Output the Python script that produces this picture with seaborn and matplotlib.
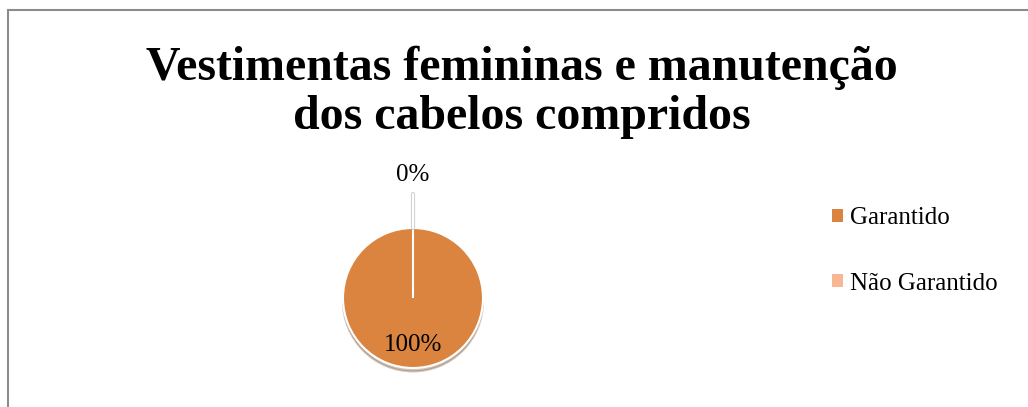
import numpy as np
import matplotlib
matplotlib.use("Agg")
from matplotlib import pyplot as plt
from matplotlib import patheffects as pe
from matplotlib.patches import Rectangle
import seaborn as sns

sns.set_theme(style="white")
plt.rcParams['font.family'] = ['Liberation Serif', 'DejaVu Serif']
plt.rcParams['text.color'] = 'black'

title = "Vestimentas femininas e manutenção\ndos cabelos compridos"
categories = ["Garantido", "Não Garantido"]
values = [100, 0]
colors = ["#DA843F", "#F8B792"]

W, H = 1028, 407
fig = plt.figure(figsize=(W / 100, H / 100), dpi=100)

# chart border (only top and left are visible in the crop)
fig.patches.append(Rectangle((8 / W, -0.2), 1.2, (H - 10) / H + 0.2,
                             transform=fig.transFigure, fill=False,
                             edgecolor="#8c8c8c", linewidth=1.5))

fig.text(522 / W, 1 - 46 / H, title, ha="center", va="top",
         fontsize=34.5, fontweight="bold", linespacing=1.15)

# pie axes: radius 1 -> 70 px
R = 70
half = 150
ax = fig.add_axes([(413 - half) / W, (H - 298 - half) / H, 2 * half / W, 2 * half / H])

wedges, texts, autotexts = ax.pie(
    values, colors=colors, startangle=90, counterclock=False,
    autopct="%1.0f%%", pctdistance=0.67, radius=1,
    wedgeprops=dict(edgecolor="white", linewidth=1.5),
    textprops=dict(fontsize=18, color="black"),
    shadow=dict(ox=0.0, oy=-0.035, shade=0.5, alpha=0.3),
)
ax.set_xlim(-half / R, half / R)
ax.set_ylim(-half / R, half / R)
ax.set_aspect("equal")
ax.axis("off")

# move labels of empty slices outside with a leader line
for w, t in zip(wedges, autotexts):
    if w.theta2 - w.theta1 < 1e-6:
        ang = np.deg2rad(w.theta1)
        t.set_position((1.76 * np.cos(ang), 1.76 * np.sin(ang)))
        ax.plot([np.cos(ang), 1.48 * np.cos(ang)], [np.sin(ang), 1.48 * np.sin(ang)],
                color="white", linewidth=1.5,
                path_effects=[pe.withStroke(linewidth=3, foreground="#d0d0d0")])

leg = fig.legend(wedges, categories, loc="center left",
                 bbox_to_anchor=(832 / W, (H - 251) / H), frameon=False,
                 fontsize=18, handlelength=0.42, handleheight=0.42,
                 handletextpad=0.3, labelspacing=1.72, borderpad=0, borderaxespad=0)
for h in leg.legend_handles:
    h.set_edgecolor("none")

fig.savefig("out.png", dpi=100, facecolor="white")
